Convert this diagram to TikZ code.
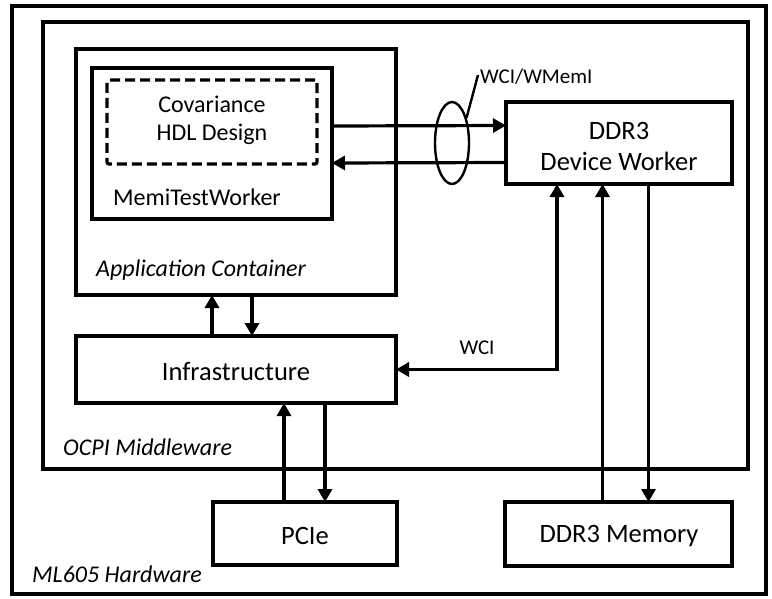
\documentclass[tikz,border=0pt]{standalone}
\usepackage{fontspec}
\setmainfont{Carlito}
\usetikzlibrary{arrows.meta,shapes.geometric}
\begin{document}
\begin{tikzpicture}[x=1pt,y=-1pt,
  box/.style={draw,line width=3.2pt,inner sep=0pt,outer sep=0pt},
  arr/.style={line width=3.2pt,-{Triangle[length=13pt,width=14pt]}},
  biarr/.style={line width=3.2pt,{Triangle[length=13pt,width=14pt]}-{Triangle[length=13pt,width=14pt]}},
  lbl/.style={font=\fontsize{26.5}{31}\selectfont,align=center,inner sep=0pt},
  wlbl/.style={font=\fontsize{24}{28}\selectfont,align=center,inner sep=0pt},
  ilbl/.style={font=\fontsize{24}{28}\selectfont\itshape,anchor=west,inner sep=0pt},
  slbl/.style={font=\fontsize{21}{25}\selectfont,inner sep=0pt}]
\useasboundingbox (0,0) rectangle (772,598);
\fill[white] (0,0) rectangle (772,598);

% nested containers
\node[box,minimum width=754pt,minimum height=588pt] (hw) at (389,300) {};
\node[box,minimum width=705pt,minimum height=447pt] (mw) at (395.5,245.5) {};
\node[box,minimum width=320pt,minimum height=246pt] (app) at (236,172) {};
\node[box,minimum width=240pt,minimum height=151pt] (mtw) at (212,143.5) {};
\node[box,dash pattern=on 10pt off 5pt,rounded corners=2pt,minimum width=210pt,minimum height=84pt] (cov) at (212,122) {};

% blocks
\node[box,minimum width=226pt,minimum height=82pt] (ddr) at (619,143) {};
\node[box,minimum width=320pt,minimum height=67pt] (infra) at (236,369.5) {};
\node[box,minimum width=184pt,minimum height=63pt] (pcie) at (305,533.5) {};
\node[box,minimum width=227pt,minimum height=64pt] (mem) at (618.5,534) {};

% texts
\node[wlbl] (covt) at (212,120) {Covariance\\HDL Design};
\node[wlbl] (mtwt) at (197,197) {MemiTestWorker};
\node[ilbl] (appt) at (96,270) {Application Container};
\node[ilbl] (mwt) at (63,447) {OCPI Middleware};
\node[ilbl] (hwt) at (32,574) {ML605 Hardware};
\node[lbl] (ddrt) at (619,146) {DDR3\\Device Worker};
\node[lbl] (infrat) at (236,372) {Infrastructure};
\node[lbl] (pciet) at (305,536) {PCIe};
\node[lbl] (memt) at (619,536) {DDR3 Memory};

% worker <-> DDR3 device worker
\draw[arr] ([yshift=17.5pt]mtw.east) -- ([yshift=17.5pt]ddr.west);
\draw[arr] ([yshift=-19.5pt]ddr.west) -- ([yshift=-19.5pt]mtw.east);

% bundle marker
\node[draw,ellipse,line width=2.4pt,minimum width=34pt,minimum height=82pt,inner sep=0pt] (bund) at (452,143) {};
\coordinate (lead) at (478,75);
\draw[line width=2.4pt] (bund.60) -- (lead);
\node[slbl,anchor=west] (bundt) at (480,77) {WCI/WMemI};

% container <-> infrastructure
\draw[arr] ([xshift=-24pt]infra.north) -- ([xshift=-24pt]app.south);
\draw[arr] ([xshift=16pt]app.south) -- ([xshift=16pt]infra.north);

% infrastructure <-> PCIe
\draw[arr] ([xshift=-21pt]pcie.north) -- ([xshift=-21pt]pcie.north |- infra.south);
\draw[arr] ([xshift=20pt]pcie.north |- infra.south) -- ([xshift=20pt]pcie.north);

% control link
\draw[biarr] ([xshift=-62pt]ddr.south) |- (infra.east);
\node[slbl] (wcit) at (477,348) {WCI};

% device worker <-> memory
\draw[arr] ([xshift=-16pt]mem.north) -- ([xshift=-16pt]mem.north |- ddr.south);
\draw[arr] ([xshift=30pt]mem.north |- ddr.south) -- ([xshift=30pt]mem.north);
\end{tikzpicture}
\end{document}
